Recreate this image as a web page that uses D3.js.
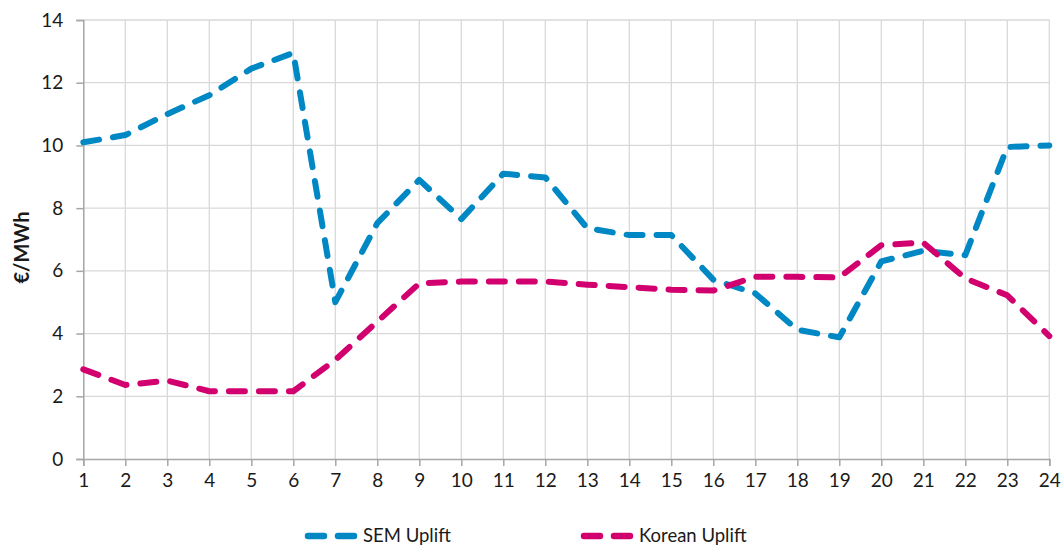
<!DOCTYPE html>
<html>
<head>
<meta charset="utf-8">
<script src="https://cdn.jsdelivr.net/npm/d3@7"></script>
<style>
  html, body { margin: 0; padding: 0; background: #fff; }
  svg { display: block; font-family: Lato, "Open Sans", sans-serif; }
</style>
</head>
<body>
<svg id="chart" width="1064" height="547"></svg>
<script>
// Hour of day
const hours = d3.range(1, 25);
// Uplift by hour, €/MWh
const semUplift = [10.1, 10.33, 11.0, 11.6, 12.45, 12.95, 5.0, 7.52, 8.9, 7.65, 9.1, 8.98,
                   7.36, 7.14, 7.14, 5.72, 5.28, 4.12, 3.88, 6.3, 6.64, 6.5, 9.95, 10.0];
const koreanUplift = [2.86, 2.36, 2.5, 2.16, 2.16, 2.16, 3.16, 4.38, 5.6, 5.66, 5.66, 5.66,
                      5.56, 5.48, 5.4, 5.37, 5.81, 5.81, 5.79, 6.82, 6.9, 5.76, 5.22, 3.92];
const yTicks = [0, 2, 4, 6, 8, 10, 12, 14];
const seriesNames = ["SEM Uplift", "Korean Uplift"];
const seriesColors = ["#0088c4", "#d2006f"];

const svg = d3.select("#chart");
const margin = { left: 83.3, right: 1049.3, top: 20, bottom: 459 };

const x = d3.scaleLinear().domain([1, 24]).range([margin.left, margin.right]);
const y = d3.scaleLinear().domain([0, 14]).range([margin.bottom, margin.top]);

// Grid
const grid = svg.append("g").attr("stroke", "#d9d9d9").attr("stroke-width", 1.3);
grid.selectAll("line.h").data(yTicks.slice(1)).join("line")
  .attr("x1", margin.left).attr("x2", margin.right)
  .attr("y1", d => y(d)).attr("y2", d => y(d));
grid.selectAll("line.v").data(hours.slice(1)).join("line")
  .attr("x1", d => x(d)).attr("x2", d => x(d))
  .attr("y1", margin.top).attr("y2", margin.bottom);

// Axes
const xAxis = svg.append("g")
  .attr("transform", `translate(0,${margin.bottom})`)
  .call(d3.axisBottom(x).tickValues(hours).tickFormat(d3.format("d")).tickSize(7).tickPadding(8));
const yAxis = svg.append("g")
  .attr("transform", `translate(${margin.left},0)`)
  .call(d3.axisLeft(y).tickValues(yTicks).tickSize(7).tickPadding(13));
[xAxis, yAxis].forEach(g => {
  g.select(".domain").attr("stroke", "#a6a6a6").attr("stroke-width", 1.5);
  g.selectAll(".tick line").attr("stroke", "#a6a6a6").attr("stroke-width", 1.5);
  g.selectAll(".tick text").attr("fill", "#1a1a1a").attr("font-size", 19)
    .attr("font-family", "Lato, 'Open Sans', sans-serif");
});

// Y axis title
svg.append("text")
  .attr("transform", `translate(29,${(margin.top + margin.bottom) / 2 + 8}) rotate(-90)`)
  .attr("text-anchor", "middle")
  .attr("font-size", 20).attr("font-weight", "bold").attr("fill", "#1a1a1a")
  .text("€/MWh");

// Lines
const line = d3.line().x((d, i) => x(hours[i])).y(d => y(d));
[semUplift, koreanUplift].forEach((data, i) => {
  svg.append("path")
    .datum(data)
    .attr("fill", "none")
    .attr("stroke", seriesColors[i])
    .attr("stroke-width", 6)
    .attr("stroke-linecap", "round")
    .attr("stroke-linejoin", "round")
    .attr("stroke-dasharray", "16,14")
    .attr("d", line);
});

// Legend
const legend = svg.append("g").attr("transform", "translate(0,536)");
const legendX = [308, 584];
seriesNames.forEach((name, i) => {
  const g = legend.append("g").attr("transform", `translate(${legendX[i]},0)`);
  g.append("line")
    .attr("x1", 0).attr("x2", 46).attr("y1", 0).attr("y2", 0)
    .attr("stroke", seriesColors[i]).attr("stroke-width", 6.5)
    .attr("stroke-linecap", "round").attr("stroke-dasharray", "16,14");
  g.append("text")
    .attr("x", 55).attr("y", 0).attr("dy", "0.35em")
    .attr("font-size", 18.5).attr("fill", "#1a1a1a")
    .text(name);
});
</script>
</body>
</html>
